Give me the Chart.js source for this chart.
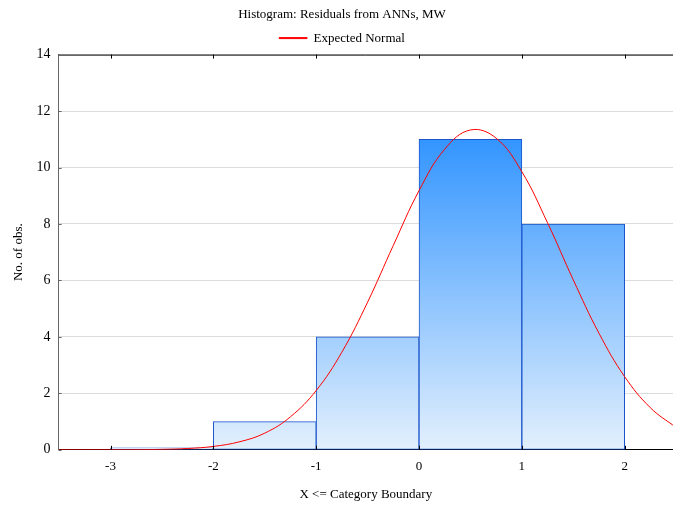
<!DOCTYPE html>
<html>
<head>
<meta charset="utf-8">
<script src="https://cdn.jsdelivr.net/npm/chart.js@4.4.1/dist/chart.umd.min.js"></script>
<style>
  html, body { margin: 0; padding: 0; background: #fff; }
  #wrap { width: 673px; height: 506px; }
</style>
</head>
<body>
<div id="wrap"><canvas id="hist"></canvas></div>
<script>
// histogram bins (centres) and counts
const binCentres = [-2.5, -1.5, -0.5, 0.5, 1.5];
const counts = [0, 1, 4, 11, 8];
// expected normal curve
const curveX = [-3.5, -3.25, -3, -2.75, -2.5, -2.25, -2, -1.75, -1.5, -1.25, -1, -0.75, -0.5, -0.25, 0, 0.25, 0.5, 0.75, 1, 1.25, 1.5, 1.75, 2, 2.25, 2.5];
const curveY = [0, 0, 0.002, 0.005, 0.016, 0.046, 0.12, 0.28, 0.59, 1.17, 2.1, 3.46, 5.23, 7.24, 9.18, 10.65, 11.33, 11.04, 9.85, 8.04, 6.02, 4.13, 2.59, 1.49, 0.79];
const xTicks = [-3, -2, -1, 0, 1, 2];

const serif = "'Liberation Serif', 'Times New Roman', serif";
Chart.defaults.font.family = serif;
Chart.defaults.font.size = 13;
Chart.defaults.color = '#000';

function barGradient(context) {
  const chart = context.chart;
  const area = chart.chartArea;
  if (!area) return '#8fc3fb';
  const y = chart.scales.y;
  const g = chart.ctx.createLinearGradient(0, y.getPixelForValue(0), 0, y.getPixelForValue(11));
  g.addColorStop(0, '#e3f0fd');
  g.addColorStop(1, '#3395ff');
  return g;
}

// inward tick marks plus the top frame line
const frame = {
  id: 'frame',
  afterDatasetsDraw(chart) {
    const { ctx, chartArea: a, scales: { x, y } } = chart;
    ctx.save();
    ctx.lineWidth = 1;
    ctx.strokeStyle = '#000';
    ctx.beginPath();
    ctx.moveTo(a.left, a.top + 0.5);
    ctx.lineTo(a.right, a.top + 0.5);
    xTicks.forEach(v => {
      const px = Math.round(x.getPixelForValue(v)) + 0.5;
      ctx.moveTo(px, a.top);
      ctx.lineTo(px, a.top + 4);
      ctx.moveTo(px, a.bottom);
      ctx.lineTo(px, a.bottom - 4);
    });
    ctx.stroke();
    ctx.strokeStyle = '#666';
    ctx.beginPath();
    for (let v = 0; v <= 14; v += 2) {
      const py = Math.round(y.getPixelForValue(v)) + 0.5;
      ctx.moveTo(a.left, py);
      ctx.lineTo(a.left + 3, py);
    }
    ctx.stroke();
    ctx.restore();
  }
};

new Chart(document.getElementById('hist'), {
  data: {
    datasets: [{
      type: 'line',
      label: 'Expected Normal',
      data: curveX.map((v, i) => ({ x: v, y: curveY[i] })),
      borderColor: '#ff0000',
      backgroundColor: '#ff0000',
      borderWidth: 1,
      pointRadius: 0,
      tension: 0.4,
      fill: false,
      order: 0
    }, {
      type: 'bar',
      label: 'Counts',
      data: binCentres.map((v, i) => ({ x: v, y: counts[i] })),
      backgroundColor: barGradient,
      borderColor: '#1b55cc',
      borderWidth: 1,
      borderSkipped: false,
      minBarLength: 2,
      barPercentage: 1,
      categoryPercentage: 1,
      order: 1
    }]
  },
  options: {
    responsive: true,
    maintainAspectRatio: false,
    animation: false,
    layout: { padding: { left: 11, right: 0, top: 4, bottom: 4 } },
    plugins: {
      title: {
        display: true,
        text: 'Histogram: Residuals from ANNs, MW',
        font: { size: 13, weight: 'normal' },
        color: '#000',
        padding: { top: 3, bottom: 2 }
      },
      legend: {
        display: true,
        labels: {
          filter: item => item.text === 'Expected Normal',
          boxWidth: 28,
          boxHeight: 1,
          padding: 7,
          color: '#000',
          font: { size: 13 }
        }
      },
      tooltip: { enabled: false }
    },
    scales: {
      x: {
        type: 'linear',
        offset: false,
        min: -3.505,
        max: 2.47,
        afterBuildTicks: s => { s.ticks = xTicks.map(v => ({ value: v })); },
        grid: { display: false, drawTicks: false, offset: false },
        border: { color: '#000', width: 1 },
        ticks: { padding: 9, color: '#000', font: { size: 13 } },
        title: {
          display: true,
          text: 'X <= Category Boundary',
          color: '#000',
          font: { size: 13 },
          padding: { top: 3, bottom: 0 }
        }
      },
      y: {
        min: 0,
        max: 14,
        ticks: { stepSize: 2, padding: 8, color: '#000', font: { size: 14 } },
        grid: { color: '#dcdcdc', drawTicks: false },
        border: { color: '#666', width: 1 },
        title: {
          display: true,
          text: 'No. of obs.',
          color: '#000',
          font: { size: 13 },
          padding: { top: 0, bottom: 2 }
        }
      }
    }
  },
  plugins: [frame]
});
</script>
</body>
</html>
